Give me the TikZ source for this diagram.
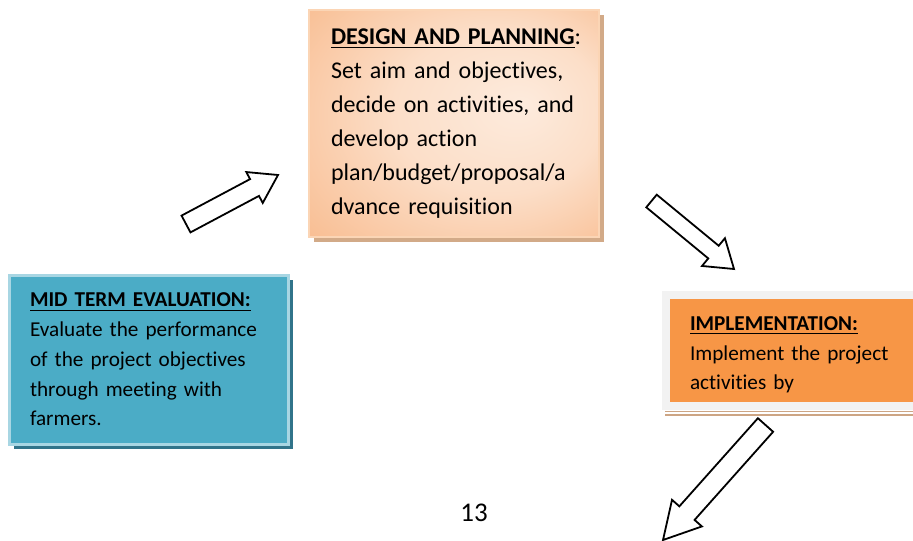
\documentclass[tikz,border=0pt]{standalone}
\usepackage{fontspec}
\setmainfont{Carlito}[Ligatures={NoCommon}]
\usepackage{xcolor}
\usetikzlibrary{calc,shadows}

\definecolor{planorange}{HTML}{F8B889}
\definecolor{planlight}{HTML}{FDEBDD}
\definecolor{planrim}{HTML}{FBD5B5}
\definecolor{plantan}{HTML}{D2AA88}
\definecolor{midteal}{HTML}{4BACC6}
\definecolor{midrim}{HTML}{A8D6E3}
\definecolor{midshade}{HTML}{31748A}
\definecolor{implorange}{HTML}{F79646}
\definecolor{implrim}{HTML}{F2F2F2}
\definecolor{impltan}{HTML}{CDA584}

\pgfdeclareradialshading{planglow}{\pgfpoint{12bp}{4bp}}{color(0bp)=(planlight); color(18bp)=(planlight!75!planorange); color(42bp)=(planorange); color(50bp)=(planorange)}

\tikzset{
  planbox/.style={draw=planrim, line width=1pt, shading=planglow,
    minimum width=145pt, minimum height=113.5pt, inner xsep=11pt,
    text width=123pt, align=left, font=\fontsize{12}{17}\selectfont,
    drop shadow={shadow xshift=2.5pt, shadow yshift=-2.5pt, fill=plantan, opacity=1}},
  midbox/.style={draw=midrim, fill=midteal, line width=1.5pt,
    minimum width=139.5pt, minimum height=84.5pt, inner xsep=10.5pt,
    text width=118.5pt, align=left, font=\fontsize{10.6}{14.85}\selectfont,
    drop shadow={shadow xshift=2.5pt, shadow yshift=-2.5pt, fill=midshade, opacity=1}},
  implbox/.style={draw=implrim, fill=implorange, line width=4pt,
    minimum width=167pt, minimum height=55.5pt, inner xsep=12pt,
    text width=143pt, align=left, font=\fontsize{10.6}{14.85}\selectfont},
  arrowline/.style={draw=black, fill=white, line width=0.9pt, line join=miter}
}

\begin{document}
\begin{tikzpicture}[y=-0.5pt,x=0.5pt]
	\newcommand\BlockArrow[5]{%
		\path ($(#2)!#5!(#1)$) coordinate (#2base);
		\draw[arrowline] ($(#1)!#3!90:(#2)$) -- ($(#2base)!#3!90:(#2)$) -- ($(#2base)!#4!90:(#2)$)
			-- (#2) -- ($(#2base)!#4!-90:(#2)$) -- ($(#2base)!#3!-90:(#2)$) -- ($(#1)!#3!-90:(#2)$) -- cycle;}

	\useasboundingbox (0,0) rectangle (913,540);

	\node[planbox] (plan) at (454,123.5) {\underline{\textbf{DESIGN AND PLANNING}}:\\
		Set aim and objectives,\\decide on activities, and\\develop action\\plan/budget/proposal/a\\dvance requisition};

	\node[midbox] (mid) at (148.5,359.5) {\underline{\textbf{MID TERM EVALUATION:}}\\
		Evaluate the performance\\of the project objectives\\through meeting with\\farmers.};

	\node[implbox] (impl) at (833,350.5) {\rule{0pt}{11.5pt}\underline{\textbf{IMPLEMENTATION:}}\\
		Implement the project\\activities by};
	\draw[impltan, line width=0.75pt] ([shift={(3,1.5)}]impl.south west) -- ([shift={(0,1.5)}]impl.south east);
	\draw[impltan, line width=1pt] ([shift={(3,4.5)}]impl.south west) -- ([shift={(0,4.5)}]impl.south east);

	\coordinate (up) at (186,224);
	\coordinate (uptip) at (278,175);
	\coordinate (down) at (651.5,201);
	\coordinate (downtip) at (734,269);
	\coordinate (next) at (765.5,425);
	\coordinate (nexttip) at (663,540);
	\BlockArrow{up}{uptip}{4.75pt}{8.75pt}{13.3pt}
	\BlockArrow{down}{downtip}{4.1pt}{9pt}{13.3pt}
	\BlockArrow{next}{nexttip}{5.1pt}{10pt}{18pt}

	\node[font=\fontsize{13.5}{16}\selectfont] (page) at (474,513) {13};
\end{tikzpicture}
\end{document}
